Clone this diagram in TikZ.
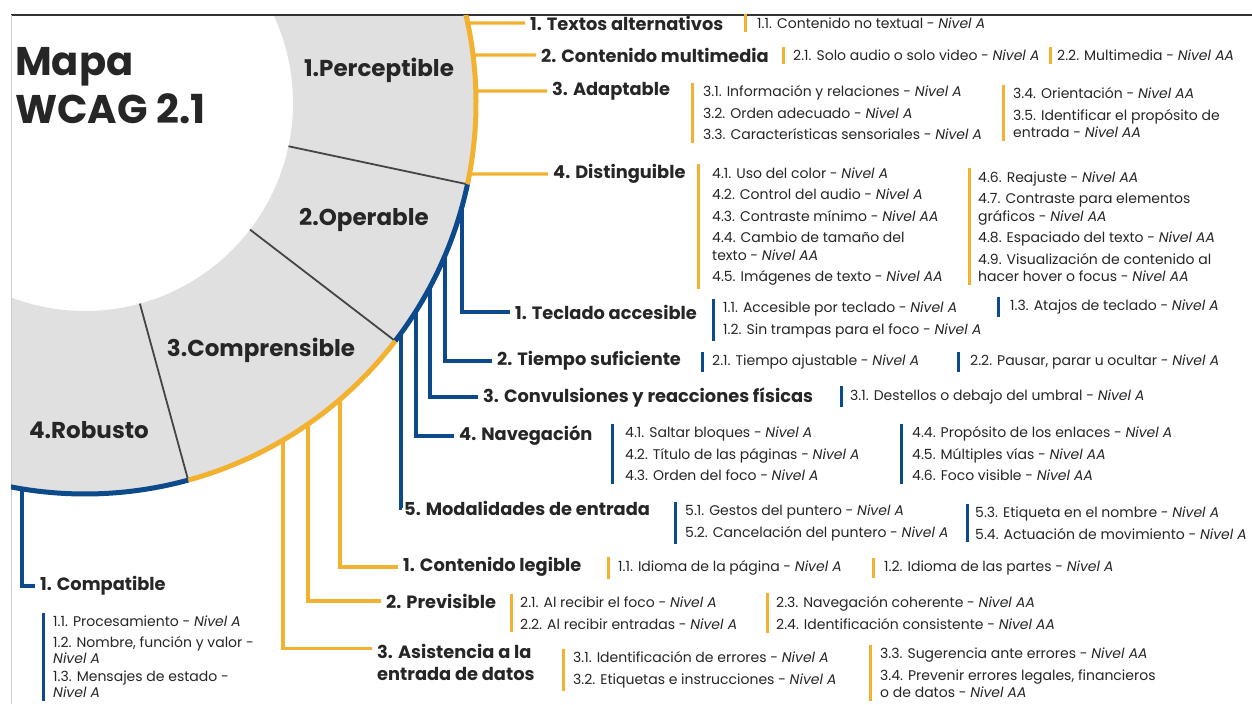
\documentclass[tikz,border=0pt]{standalone}
\usepackage{fontspec}
\setmainfont{Poppins}
\usetikzlibrary{calc}
\definecolor{wyel}{HTML}{F2B230}
\definecolor{wblue}{HTML}{0C4A8C}
\definecolor{ringg}{HTML}{E0E0E0}
\definecolor{divg}{HTML}{454545}
\definecolor{txt}{HTML}{262626}
\newcommand{\nv}[1]{\textit{Nivel #1}}
\newcommand{\wgrp}[6]{%
  \node[grp] (#1) at (#4,#5) {#6};
  \draw[#2, line width=3pt] ([xshift={#3pt-#4pt}]#1.north west) -- ([xshift={#3pt-#4pt}]#1.south west);
}
\begin{document}
\begin{tikzpicture}[x=1pt,y=-1pt,
  head/.style={anchor=west, inner xsep=5pt, inner ysep=0pt, text=txt, font=\fontsize{17.8}{21.5}\selectfont\bfseries},
  grp/.style={anchor=west, inner xsep=0pt, inner ysep=3pt, align=left, text=txt, font=\fontsize{14}{17.5}\selectfont},
  ringlbl/.style={text=txt, font=\fontsize{23}{26}\selectfont\bfseries},
  ylink/.style={draw=wyel, line width=3.2pt},
  blink/.style={draw=wblue, line width=3.2pt},
  yarc/.style={draw=wyel, line width=5pt},
  barc/.style={draw=wblue, line width=5pt},
  divider/.style={draw=divg, line width=1.8pt},
]
\useasboundingbox (0,0) rectangle (1252,704);
\fill[white] (0,0) rectangle (1252,704);

% ring
\coordinate (C) at (85,103);
\begin{scope}
  \clip (11,15) rectangle (1252,704);
  \fill[ringg, even odd rule] (C) circle[radius=391] (C) circle[radius=208];
\end{scope}

% frame
\draw[black!80, line width=1.4pt] (11,15) -- (1252,15);
\draw[black!20, line width=0.6pt] (11,15) -- (11,704);

% title and ring labels
\node[anchor=west, inner sep=0pt, align=left, text=txt, font=\fontsize{40}{48}\selectfont\bfseries] (title) at (15,86) {Mapa\\WCAG 2.1};
\node[ringlbl] (lp) at (379,70) {1.Perceptible};
\node[ringlbl] (lo) at (364,220) {2.Operable};
\node[ringlbl] (lc) at (261,350) {3.Comprensible};
\node[ringlbl] (lr) at (89,430) {4.Robusto};

% headings
\node[head] (t1) at (525,23) {1. Textos alternativos};
\node[head] (t2) at (536,55) {2. Contenido multimedia};
\node[head] (t3) at (547,91) {3. Adaptable};
\node[head] (t4) at (548,174) {4. Distinguible};
\node[head] (o1) at (510,312) {1. Teclado accesible};
\node[head] (o2) at (492,361) {2. Tiempo suficiente};
\node[head] (o3) at (478,397) {3. Convulsiones y reacciones físicas};
\node[head] (o4) at (454,436) {4. Navegación};
\node[head, inner xsep=2pt] (o5) at (402,508) {5. Modalidades de entrada};
\node[head] (c1) at (398,567) {1. Contenido legible};
\node[head] (c2) at (381,601) {2. Previsible};
\node[head, align=left] (c3) at (372,662.5) {3. Asistencia a la\\entrada de datos};
\node[head] (r1) at (35,586) {1. Compatible};

% arc anchor points
\path (C) ++({asin((23-103)/391)}:391) coordinate (pa1);
\path (C) ++({asin((55-103)/391)}:391) coordinate (pa2);
\path (C) ++({asin((91-103)/391)}:391) coordinate (pa3);
\path (C) ++({asin((174-103)/391)}:391) coordinate (pa4);
\path (C) ++({acos((462-85)/391)}:391) coordinate (oa1);
\path (C) ++({acos((445-85)/391)}:391) coordinate (oa2);
\path (C) ++({acos((430-85)/391)}:391) coordinate (oa3);
\path (C) ++({acos((416-85)/391)}:391) coordinate (oa4);
\path (C) ++({acos((401-85)/391)}:391) coordinate (oa5);
\path (C) ++({acos((340-85)/391)}:391) coordinate (ca1);
\path (C) ++({acos((308-85)/391)}:391) coordinate (ca2);
\path (C) ++({acos((283-85)/391)}:391) coordinate (ca3);
\path (C) ++({acos((22-85)/391)}:391) coordinate (ra1);

% connectors
\draw[ylink] (pa1) -- (t1.west);
\draw[ylink] (pa2) -- (t2.west);
\draw[ylink] (pa3) -- (t3.west);
\draw[ylink] (pa4) -- (t4.west);
\draw[blink] (oa1) |- (o1.west);
\draw[blink] (oa2) |- (o2.west);
\draw[blink] (oa3) |- (o3.west);
\draw[blink] (oa4) |- (o4.west);
\draw[blink] (oa5) |- (o5.west);
\draw[ylink] (ca1) |- (c1.west);
\draw[ylink] (ca2) |- (c2.west);
\draw[ylink] (ca3) |- ([yshift=14pt]c3.west);
\draw[blink] (ra1) |- (r1.west);

% outer arcs and dividers
\begin{scope}
  \clip (11,15) rectangle (1252,704);
  \draw[yarc] (C) ++(-40:391) arc[start angle=-40, end angle=12, radius=391];
  \draw[barc] (C) ++(12:391) arc[start angle=12, end angle=37.5, radius=391];
  \draw[yarc] (C) ++(37.5:391) arc[start angle=37.5, end angle=74.7, radius=391];
  \draw[barc] (C) ++(74.7:391) arc[start angle=74.7, end angle=115, radius=391];
  \foreach \a in {12,37.5,74.7} \draw[divider] ($(C)+(\a:208)$) -- ($(C)+(\a:389)$);
\end{scope}

% Perceptible criteria
\wgrp{p1}{wyel}{745}{757}{23}{1.1. Contenido no textual - \nv{A}}
\wgrp{p2a}{wyel}{783}{793}{55.5}{2.1. Solo audio o solo video - \nv{A}}
\wgrp{p2b}{wyel}{1050}{1057}{55.5}{2.2. Multimedia - \nv{AA}}
\wgrp{p3a}{wyel}{692}{703}{113}{3.1. Información y relaciones - \nv{A}\\[4pt]3.2. Orden adecuado - \nv{A}\\[4pt]3.3. Características sensoriales - \nv{A}}
\wgrp{p3b}{wyel}{1003}{1013}{113}{3.4. Orientación - \nv{AA}\\[4pt]3.5. Identificar el propósito de\\entrada - \nv{AA}}
\wgrp{p4a}{wyel}{698}{712}{226.5}{4.1. Uso del color - \nv{A}\\[4pt]4.2. Control del audio - \nv{A}\\[4pt]4.3. Contraste mínimo - \nv{AA}\\[4pt]4.4. Cambio de tamaño del\\texto - \nv{AA}\\[4pt]4.5. Imágenes de texto - \nv{AA}}
\wgrp{p4b}{wyel}{969}{978}{226.5}{4.6. Reajuste - \nv{AA}\\[4pt]4.7. Contraste para elementos\\gráficos - \nv{AA}\\[4pt]4.8. Espaciado del texto - \nv{AA}\\[4pt]4.9. Visualización de contenido al\\hacer hover o focus - \nv{AA}}

% Operable criteria
\wgrp{o1a}{wblue}{713}{723}{320}{1.1. Accesible por teclado - \nv{A}\\[4pt]1.2. Sin trampas para el foco - \nv{A}}
\wgrp{o1b}{wblue}{998}{1010}{307}{1.3. Atajos de teclado - \nv{A}}
\wgrp{o2a}{wblue}{702}{712}{362}{2.1. Tiempo ajustable - \nv{A}}
\wgrp{o2b}{wblue}{958}{970}{362}{2.2. Pausar, parar u ocultar - \nv{A}}
\wgrp{o3a}{wblue}{841}{850}{396.5}{3.1. Destellos o debajo del umbral - \nv{A}}
\wgrp{o4a}{wblue}{612}{625}{454}{4.1. Saltar bloques - \nv{A}\\[4pt]4.2. Título de las páginas - \nv{A}\\[4pt]4.3. Orden del foco - \nv{A}}
\wgrp{o4b}{wblue}{901}{912}{454}{4.4. Propósito de los enlaces - \nv{A}\\[4pt]4.5. Múltiples vías - \nv{AA}\\[4pt]4.6. Foco visible - \nv{AA}}
\wgrp{o5a}{wblue}{675}{685}{523}{5.1. Gestos del puntero - \nv{A}\\[4pt]5.2. Cancelación del puntero - \nv{A}}
\wgrp{o5b}{wblue}{967}{975}{523}{5.3. Etiqueta en el nombre - \nv{A}\\[4pt]5.4. Actuación de movimiento - \nv{A}}

% Comprensible criteria
\wgrp{c1a}{wyel}{608}{618}{568}{1.1. Idioma de la página - \nv{A}}
\wgrp{c1b}{wyel}{873}{884}{568}{1.2. Idioma de las partes - \nv{A}}
\wgrp{c2a}{wyel}{511}{520}{613}{2.1. Al recibir el foco - \nv{A}\\[4pt]2.2. Al recibir entradas - \nv{A}}
\wgrp{c2b}{wyel}{767}{776}{613}{2.3. Navegación coherente - \nv{AA}\\[4pt]2.4. Identificación consistente - \nv{AA}}
\wgrp{c3a}{wyel}{563}{573}{670}{3.1. Identificación de errores - \nv{A}\\[4pt]3.2. Etiquetas e instrucciones - \nv{A}}
\wgrp{c3b}{wyel}{870}{880}{673}{3.3. Sugerencia ante errores - \nv{AA}\\[4pt]3.4. Prevenir errores legales, financieros\\o de datos - \nv{AA}}

% Robusto criteria
\wgrp{r1a}{wblue}{43}{53}{657}{1.1. Procesamiento - \nv{A}\\[3pt]1.2. Nombre, función y valor -\\[-1pt]\nv{A}\\1.3. Mensajes de estado -\\[-1pt]\nv{A}}
\end{tikzpicture}
\end{document}
